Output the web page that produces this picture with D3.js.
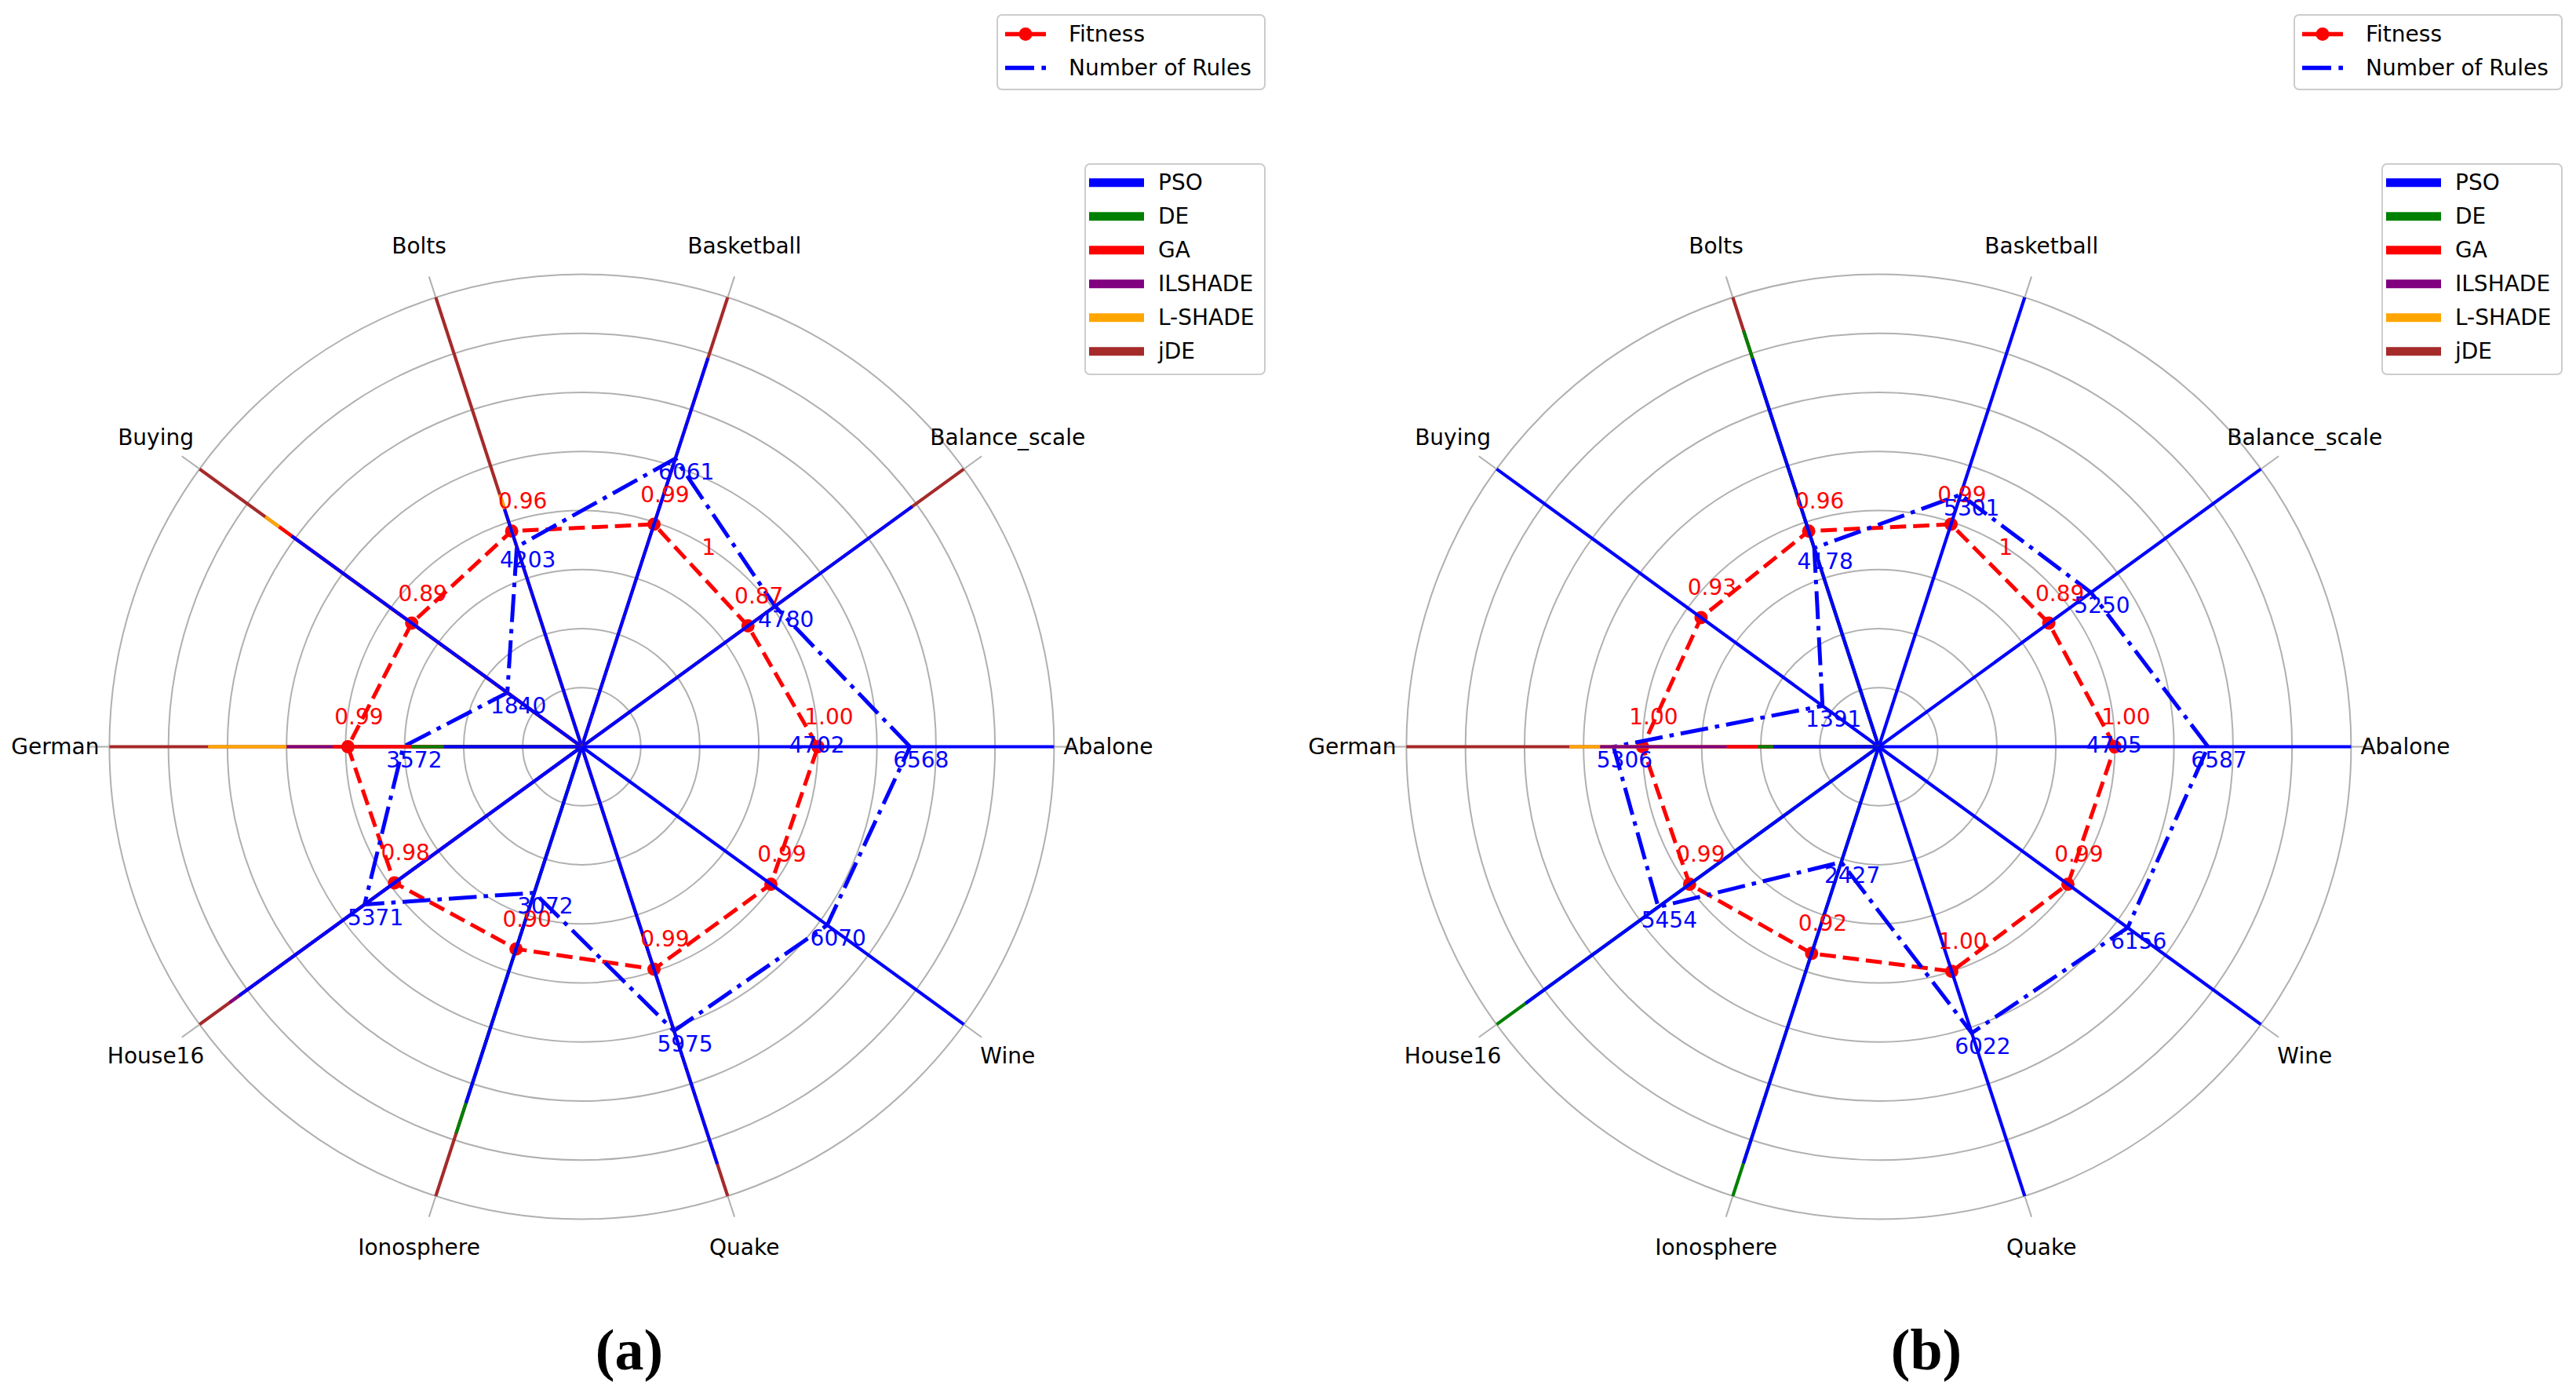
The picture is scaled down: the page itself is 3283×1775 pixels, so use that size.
<!DOCTYPE html>
<html>
<head>
<meta charset="utf-8">
<script src="https://cdn.jsdelivr.net/npm/d3@7"></script>
<style>
  body { margin: 0; background: #fff; }
  text { font-family: "DejaVu Sans", sans-serif; }
</style>
</head>
<body>
<script>
"use strict";

const categories = ["Abalone", "Balance_scale", "Basketball", "Bolts", "Buying",
                    "German", "House16", "Ionosphere", "Quake", "Wine"];
const algorithms = ["PSO", "DE", "GA", "ILSHADE", "L-SHADE", "jDE"];
const algoColors = ["blue", "green", "red", "purple", "orange", "brown"];

// spoke lengths, share of the longest one (null = hidden under another spoke)
const psoA     = [1.0, 0.865, 0.865, 0.529, 0.759, 0.292, 0.897, 0.793, 0.929, 1.0];
const deA      = [null, null, null, null, null, 0.36, null, 0.861, null, null];
const gaA      = [null, null, null, null, 0.792, 0.527, null, null, null, null];
const ilshadeA = [null, null, null, null, null, 0.625, 0.921, null, null, null];
const lshadeA  = [null, null, null, 0.561, 0.828, 0.791, null, null, null, null];
const jdeA     = [null, 1.0, 1.0, 1.0, 1.0, 1.0, 1.0, 1.0, 1.0, null];

const psoB     = [1.0, 1.0, 1.0, 0.864, 1.0, 0.223, 0.924, 0.927, 1.0, 1.0];
const deB      = [null, null, null, 0.926, null, 0.256, 1.0, 1.0, null, null];
const gaB      = [null, null, null, null, null, 0.322, null, null, null, null];
const ilshadeB = [null, null, null, null, null, 0.59, null, null, null, null];
const lshadeB  = [null, null, null, null, null, 0.655, null, null, null, null];
const jdeB     = [null, null, null, 1.0, null, 1.0, null, null, null, null];

const fitnessA = [1.00, 0.87, 0.99, 0.96, 0.89, 0.99, 0.98, 0.90, 0.99, 0.99];
const fitnessB = [1.00, 0.89, 0.99, 0.96, 0.93, 1.00, 0.99, 0.92, 1.00, 0.99];

const rulesA = [6568, 4780, 6061, 4203, 1840, 3572, 5371, 3072, 5975, 6070];
const rulesB = [6587, 5250, 5301, 4178, 1391, 5306, 5454, 2427, 6022, 6156];

const extraRuleA = 4702;
const extraRuleB = 4705;

const captions = ["(a)", "(b)"];

/*-- layout -----------------------------------------------------------------*/
const W = 3283, H = 1775;
const R = 602;
const panelShift = 1653;
const cx0 = 741.4, cy = 951.5;

const rSpoke = d3.scaleLinear().domain([0, 1]).range([0, R]);
const rFit   = d3.scaleLinear().domain([0, 1]).range([0, R / 2]);
const rRules = d3.scaleLinear().domain([0, 9450]).range([0, R]);
const theta  = d3.scaleLinear().domain([0, categories.length]).range([0, 2 * Math.PI]);

const px = (i, r) => r * Math.cos(theta(i));
const py = (i, r) => -r * Math.sin(theta(i));

const svg = d3.select("body").append("svg")
              .attr("width", W)
              .attr("height", H)
              .style("background", "#fff");

const buildSpokes = function(lists){
    const rows = [];
    categories.forEach(function(c, i){
        // longest drawn first, PSO ends on top
        for (let a = algorithms.length - 1; a >= 0; a--){
            const v = lists[a][i];
            if (v !== null) rows.push({i: i, v: v, color: algoColors[a]});
        }
    });
    return rows;
};

const drawPanel = function(p, spokeLists, fitness, rules, extraRule){
    const ox = p * panelShift;
    const g = svg.append("g").attr("transform", `translate(${cx0 + ox},${cy})`);

    // grid rings and radial lines
    g.selectAll("circle.ring")
     .data(d3.range(1, 9))
     .enter().append("circle")
     .attr("class", "ring")
     .attr("r", d => rSpoke(d / 8))
     .attr("fill", "none")
     .attr("stroke", "#b0b0b0")
     .attr("stroke-width", 2);

    g.selectAll("line.axis")
     .data(categories)
     .enter().append("line")
     .attr("x1", 0).attr("y1", 0)
     .attr("x2", (d, i) => px(i, 630))
     .attr("y2", (d, i) => py(i, 630))
     .attr("stroke", "#b0b0b0")
     .attr("stroke-width", 2);

    // fitness polygon
    const fitLine = d3.lineRadial()
                      .angle((d, i) => Math.PI / 2 - theta(i))
                      .radius(d => rFit(d))
                      .curve(d3.curveLinearClosed);
    g.append("path")
     .attr("d", fitLine(fitness))
     .attr("fill", "none")
     .attr("stroke", "red")
     .attr("stroke-width", 5)
     .attr("stroke-dasharray", "20.6,8.9");
    g.selectAll("circle.fit")
     .data(fitness)
     .enter().append("circle")
     .attr("cx", (d, i) => px(i, rFit(d)))
     .attr("cy", (d, i) => py(i, rFit(d)))
     .attr("r", 8.5)
     .attr("fill", "red");

    // rules polygon
    const rulesLine = d3.lineRadial()
                        .angle((d, i) => Math.PI / 2 - theta(i))
                        .radius(d => rRules(d))
                        .curve(d3.curveLinearClosed);
    g.append("path")
     .attr("d", rulesLine(rules))
     .attr("fill", "none")
     .attr("stroke", "blue")
     .attr("stroke-width", 5)
     .attr("stroke-dasharray", "35.6,8.9,5.6,8.9");

    // algorithm spokes
    g.selectAll("line.spoke")
     .data(buildSpokes(spokeLists))
     .enter().append("line")
     .attr("x1", 0).attr("y1", 0)
     .attr("x2", d => px(d.i, rSpoke(d.v)))
     .attr("y2", d => py(d.i, rSpoke(d.v)))
     .attr("stroke", d => d.color)
     .attr("stroke-width", 4.2);

    // category labels
    g.selectAll("text.cat")
     .data(categories)
     .enter().append("text")
     .attr("x", (d, i) => px(i, 671))
     .attr("y", (d, i) => py(i, 671))
     .attr("text-anchor", "middle")
     .attr("dominant-baseline", "central")
     .style("font-size", "28px")
     .attr("fill", "#000")
     .text(d => d);

    // value labels
    g.selectAll("text.fit")
     .data(fitness)
     .enter().append("text")
     .attr("x", (d, i) => px(i, rFit(d)) + 14)
     .attr("y", (d, i) => py(i, rFit(d)) - 38)
     .attr("text-anchor", "middle")
     .attr("dominant-baseline", "central")
     .style("font-size", "28px")
     .attr("fill", "red")
     .text(d => d3.format(".2f")(d));

    g.selectAll("text.rule")
     .data(rules)
     .enter().append("text")
     .attr("x", (d, i) => px(i, rRules(d)) + 14)
     .attr("y", (d, i) => py(i, rRules(d)) + 17)
     .attr("text-anchor", "middle")
     .attr("dominant-baseline", "central")
     .style("font-size", "28px")
     .attr("fill", "blue")
     .text(d => d);

    g.append("text")
     .attr("x", px(0, rRules(extraRule)))
     .attr("y", py(0, rRules(extraRule)) - 2)
     .attr("text-anchor", "middle")
     .attr("dominant-baseline", "central")
     .style("font-size", "28px")
     .attr("fill", "blue")
     .text(extraRule);

    // radial tick of the fitness scale
    const tickAngle = 57.5 * Math.PI / 180;
    g.append("text")
     .attr("x", rFit(1) * Math.cos(tickAngle))
     .attr("y", -rFit(1) * Math.sin(tickAngle))
     .attr("text-anchor", "middle")
     .attr("dominant-baseline", "central")
     .style("font-size", "28px")
     .attr("fill", "red")
     .text("1");

    // legend: fitness / rules
    const lg = svg.append("g").attr("transform", `translate(${ox},0)`);
    lg.append("rect")
      .attr("x", 1271).attr("y", 19)
      .attr("width", 341).attr("height", 95)
      .attr("rx", 6)
      .attr("fill", "#fff")
      .attr("stroke", "#cccccc")
      .attr("stroke-width", 2);
    lg.append("line")
      .attr("x1", 1281).attr("x2", 1333)
      .attr("y1", 43.5).attr("y2", 43.5)
      .attr("stroke", "red").attr("stroke-width", 5.5);
    lg.append("circle")
      .attr("cx", 1307).attr("cy", 43.5).attr("r", 8.5)
      .attr("fill", "red");
    lg.append("line")
      .attr("x1", 1281).attr("x2", 1334)
      .attr("y1", 86.5).attr("y2", 86.5)
      .attr("stroke", "blue").attr("stroke-width", 5.5)
      .attr("stroke-dasharray", "37,9.4,5.6,9.4");
    lg.selectAll("text.l1")
      .data(["Fitness", "Number of Rules"])
      .enter().append("text")
      .attr("x", 1362)
      .attr("y", (d, i) => 43.5 + i * 43)
      .attr("dominant-baseline", "central")
      .style("font-size", "28px")
      .attr("fill", "#000")
      .text(d => d);

    // legend: algorithms
    lg.append("rect")
      .attr("x", 1383).attr("y", 209)
      .attr("width", 229).attr("height", 268)
      .attr("rx", 6)
      .attr("fill", "#fff")
      .attr("stroke", "#cccccc")
      .attr("stroke-width", 2);
    const items = lg.selectAll("g.item")
                    .data(algorithms)
                    .enter().append("g")
                    .attr("transform", (d, i) => `translate(0,${232.7 + i * 43})`);
    items.append("line")
         .attr("x1", 1388).attr("x2", 1458)
         .attr("y1", 0).attr("y2", 0)
         .attr("stroke", (d, i) => algoColors[i])
         .attr("stroke-width", 11);
    items.append("text")
         .attr("x", 1476)
         .attr("y", 0)
         .attr("dominant-baseline", "central")
         .style("font-size", "28px")
         .attr("fill", "#000")
         .text(d => d);

    // caption
    svg.append("text")
       .attr("x", 802 + ox)
       .attr("y", 1745)
       .attr("text-anchor", "middle")
       .style("font-family", "'Liberation Serif', serif")
       .style("font-weight", "bold")
       .style("font-size", "74px")
       .attr("fill", "#000")
       .text(captions[p]);
};

drawPanel(0, [psoA, deA, gaA, ilshadeA, lshadeA, jdeA], fitnessA, rulesA, extraRuleA);
drawPanel(1, [psoB, deB, gaB, ilshadeB, lshadeB, jdeB], fitnessB, rulesB, extraRuleB);
</script>
</body>
</html>
